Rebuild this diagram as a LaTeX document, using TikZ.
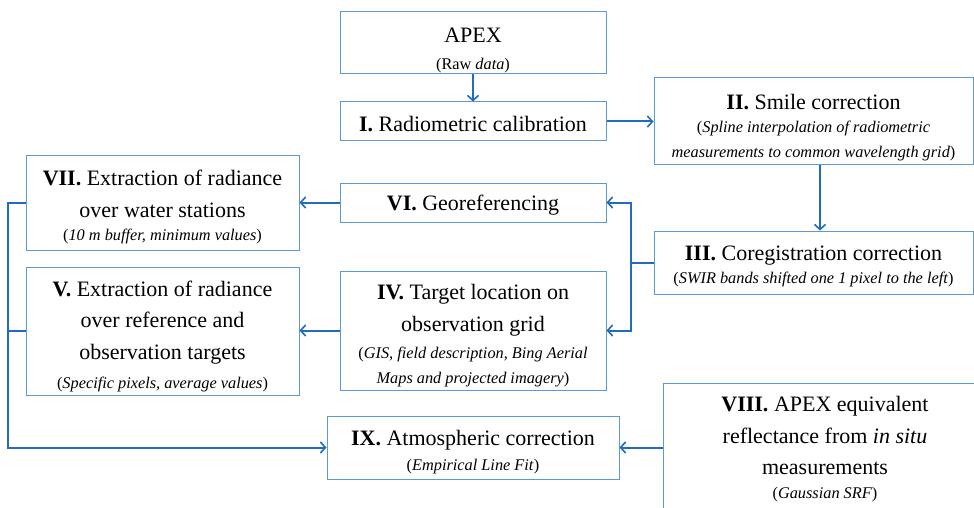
\documentclass[tikz,border=0pt]{standalone}
\usepackage{fontspec}
\setmainfont{Liberation Serif}
\usetikzlibrary{arrows.meta}
\definecolor{boxblue}{RGB}{91,155,213}
\definecolor{arrblue}{RGB}{31,108,193}
\newcommand{\mainf}{\fontsize{22}{31.5}\selectfont}
\newcommand{\subf}{\fontsize{16.3}{25}\selectfont}
\newcommand{\subline}[2][0pt]{\par\vspace{#1}{\subf #2\par}}
\begin{document}
\begin{tikzpicture}[x=1pt,y=-1pt,
  box/.style={draw=boxblue,line width=1pt,inner sep=0pt},
  txt/.style={align=flush center,inner sep=0pt,font=\mainf},
  arr/.style={draw=arrblue,line width=2pt,-{Straight Barb[length=5pt,width=11pt,line width=1.6pt]}},
  ln/.style={draw=arrblue,line width=2pt}]
\clip (0,0) rectangle (974,508);
\fill[white] (0,0) rectangle (974,508);

% boxes
\node[box,minimum width=266,minimum height=62] (apex) at (473,43) {};
\node[box,minimum width=266,minimum height=39] (cal) at (473,121.5) {};
\node[box,minimum width=319,minimum height=86] (smile) at (813.5,121) {};
\node[box,minimum width=319,minimum height=63] (coreg) at (813.5,262.5) {};
\node[box,minimum width=266,minimum height=39] (geo) at (473,202.5) {};
\node[box,minimum width=273,minimum height=95] (vii) at (162.5,202.5) {};
\node[box,minimum width=266,minimum height=119] (target) at (473,330.5) {};
\node[box,minimum width=273,minimum height=128] (v) at (162.5,331) {};
\node[box,minimum width=292,minimum height=63] (ix) at (473,447.5) {};
\node[box,minimum width=324,minimum height=129] (viii) at (825,447.5) {};

% texts
\node[txt,text width=260] (apexT) at ([yshift=-7pt]apex.center)
  {APEX\subline[2pt]{(Raw \textit{data})}};
\node[txt,text width=260] (calT) at ([yshift=-2.5pt]cal.center)
  {\textbf{I.} Radiometric calibration};
\node[txt,text width=315] (smileT) at ([yshift=-6.5pt]smile.center)
  {\textbf{II.} Smile correction\subline[-2pt]{(\textit{Spline interpolation of radiometric}\\ \textit{measurements to common wavelength grid})}};
\node[txt,text width=315] (coregT) at ([yshift=-4pt]coreg.center)
  {\textbf{III.} Coregistration correction\subline[-2pt]{(\textit{SWIR bands shifted one 1 pixel to the left})}};
\node[txt,text width=260] (geoT) at ([yshift=-3pt]geo.center)
  {\textbf{VI.} Georeferencing};
\node[txt,text width=268] (viiT) at ([yshift=-4.5pt]vii.center)
  {\textbf{VII.} Extraction of radiance\\ over water stations\subline[-2pt]{(\textit{10 m buffer, minimum values})}};
\node[txt,text width=260] (targetT) at ([yshift=-5pt]target.center)
  {\textbf{IV.} Target location on\\ observation grid\subline[2pt]{(\textit{GIS, field description, Bing Aerial}\\ \textit{Maps and projected imagery})}};
\node[txt,text width=268] (vT) at ([yshift=-5pt]v.center)
  {\textbf{V.} Extraction of radiance\\ over reference and\\ observation targets\subline[4pt]{(\textit{Specific pixels, average values})}};
\node[txt,text width=288] (ixT) at ([yshift=-4.5pt]ix.center)
  {\textbf{IX.} Atmospheric correction\subline{(\textit{Empirical Line Fit})}};
\node[txt,text width=318] (viiiT) at ([yshift=-2pt]viii.center)
  {\textbf{VIII.} APEX equivalent\\ reflectance from \textit{in situ}\\ measurements\subline[-1pt]{(\textit{Gaussian SRF})}};

% connectors
\draw[arr] (apex) -- (cal);
\draw[arr] (cal.east) -- (cal.east -| smile.west);
\draw[arr] ([xshift=6.5pt]smile.south) -- ([xshift=6.5pt]coreg.north);
\coordinate (jr) at ([xshift=-23pt]coreg.west);
\draw[ln] (coreg.west) -- (jr);
\draw[arr] (jr) |- (geo.east);
\draw[arr] (jr) |- (target.east);
\draw[arr] (geo.west) -- (vii.east);
\draw[arr] (target.west) -- (target.west -| v.east);
\coordinate (jl) at ([xshift=-18pt]vii.west);
\draw[arr] (vii.west) -- (jl) |- (ix.west);
\draw[ln] (v.west) -- (v.west -| jl);
\draw[arr] (viii.west) -- (ix.east);
\end{tikzpicture}
\end{document}
